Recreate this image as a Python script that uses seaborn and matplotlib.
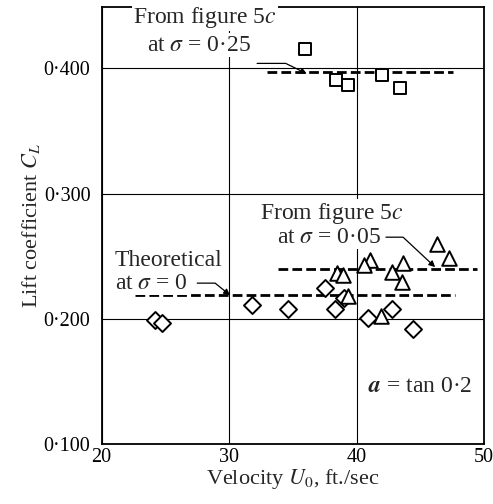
import matplotlib
matplotlib.use("Agg")
import matplotlib.pyplot as plt
import seaborn as sns

sq_u = [35.96, 38.39, 39.36, 41.98, 43.41]
sq_cl = [0.4158, 0.3905, 0.3865, 0.3945, 0.3847]

tri_u = [46.34, 47.21, 41.06, 40.61, 43.67, 42.76, 43.55, 38.49, 38.92, 39.30, 41.90]
tri_cl = [0.2596, 0.2482, 0.2468, 0.2429, 0.2442, 0.2375, 0.2295, 0.2367, 0.2349, 0.2180, 0.2022]

dia_u = [24.18, 24.71, 31.77, 34.65, 37.53, 38.31, 39.00, 40.93, 42.76, 44.41]
dia_cl = [0.1990, 0.1963, 0.2110, 0.2075, 0.2243, 0.2075, 0.2163, 0.2003, 0.2075, 0.1915]

# gestrichelte Bezugslinien: Niveau, Anfang, Ende
ref_levels = [0.397, 0.2394, 0.2189]
ref_start = [32.95, 33.86, 22.6]
ref_end = [47.57, 49.43, 47.7]

x_ticks = [20, 30, 40, 50]
y_ticks = [0.1, 0.2, 0.3, 0.4]
y_tick_labels = ["0\u00b7100", "0\u00b7200", "0\u00b7300", "0\u00b7400"]

sns.set_style("white")
plt.rcParams["font.family"] = ["Liberation Serif", "DejaVu Serif"]
plt.rcParams["mathtext.fontset"] = "stix"

fig = plt.figure(figsize=(4.93, 5.04), dpi=100)
ax = fig.add_axes([0.206, 0.119, 0.776, 0.867])

ax.set_xlim(20, 50)
ax.set_ylim(0.1, 0.449)
ax.set_xticks(x_ticks)
ax.set_yticks(y_ticks)
ax.set_yticklabels(y_tick_labels)
ax.tick_params(length=0, labelsize=14.5, colors="black")
ax.tick_params(axis="y", pad=8)
ax.tick_params(axis="x", pad=3)
ax.grid(True, color="black", linewidth=0.8)
for s in ax.spines.values():
    s.set_color("black")
    s.set_linewidth(1.3)

ax.hlines(ref_levels, ref_start, ref_end, colors="black",
          linestyles=(0, (3.5, 1.5)), linewidth=2.0, zorder=3)

mk = dict(facecolor="white", edgecolor="black", linewidth=1.4, zorder=4, ax=ax)
sns.scatterplot(x=sq_u, y=sq_cl, marker="s", s=85, **mk)
sns.scatterplot(x=dia_u, y=dia_cl, marker="D", s=75, **mk)
sns.scatterplot(x=tri_u, y=tri_cl, marker="^", s=110, **mk)

box = dict(facecolor="white", edgecolor="none", pad=1)
fs = 17
ax.text(22.46, 0.4408, "From figure 5$c$", fontsize=fs, va="center", bbox=box, zorder=5)
ax.text(23.56, 0.4184, "at $\\sigma$ = 0\u00b725", fontsize=fs, va="center", bbox=box, zorder=5)
ax.text(32.42, 0.2844, "From figure 5$c$", fontsize=fs, va="center", bbox=box, zorder=5)
ax.text(33.76, 0.2652, "at $\\sigma$ = 0\u00b705", fontsize=fs, va="center", bbox=box, zorder=5)
ax.text(21.04, 0.2468, "Theoretical", fontsize=fs, va="center", bbox=box, zorder=5)
ax.text(21.04, 0.2285, "at $\\sigma$ = 0", fontsize=fs, va="center", bbox=box, zorder=5)
ax.text(40.9, 0.1463, "$\\boldsymbol{a}$ = tan 0\u00b72", fontsize=fs, va="center", zorder=5)

arr = dict(arrowstyle="-|>", color="black", linewidth=0.9, mutation_scale=9,
           shrinkA=0, shrinkB=0)
ax.annotate("", xy=(36.09, 0.3958), xytext=(32.2, 0.404),
            arrowprops=dict(connectionstyle="angle,angleA=0,angleB=-26,rad=0", **arr), zorder=6)
ax.annotate("", xy=(46.16, 0.2413), xytext=(42.3, 0.2652),
            arrowprops=dict(connectionstyle="angle,angleA=0,angleB=-43,rad=0", **arr), zorder=6)
ax.annotate("", xy=(30.07, 0.2189), xytext=(27.5, 0.2285),
            arrowprops=dict(connectionstyle="angle,angleA=0,angleB=-39,rad=0", **arr), zorder=6)

ax.set_xlabel("Velocity $U_0$, ft./sec", fontsize=16, labelpad=0)
ax.set_ylabel("Lift coefficient $C_L$", fontsize=16, labelpad=1)

fig.savefig("out.png", dpi=100)
